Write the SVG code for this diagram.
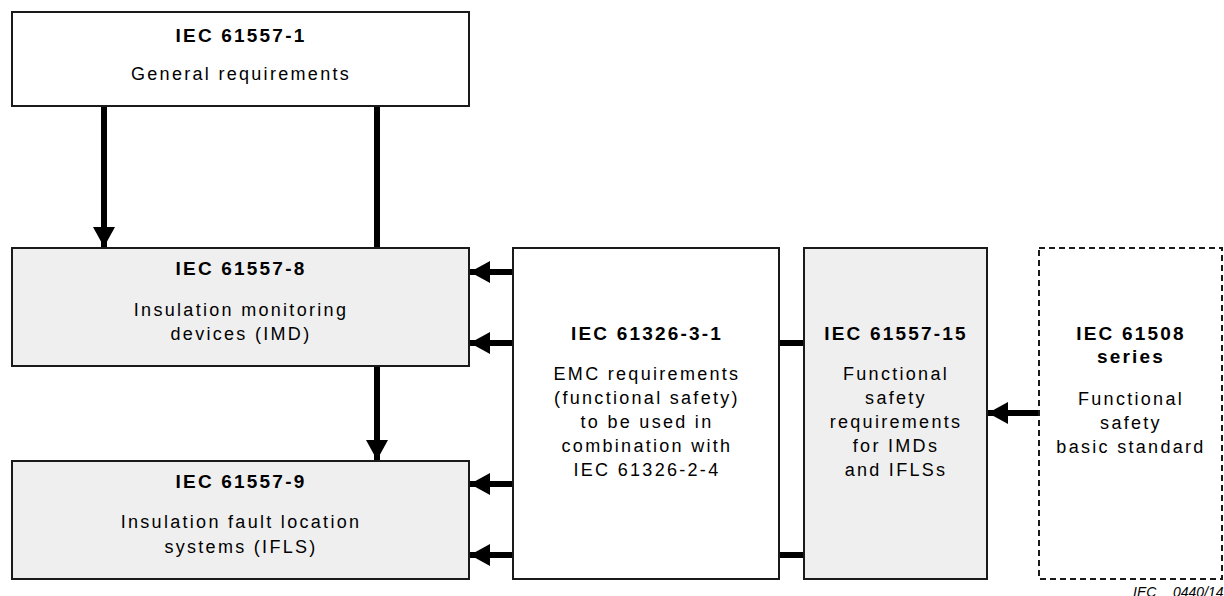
<svg xmlns="http://www.w3.org/2000/svg" width="1224" height="596" viewBox="0 0 1224 596">
<style>
.box{stroke:#1a1a1a;stroke-width:2;fill:#ffffff}
.grey{fill:#efefef}
.dash{stroke-dasharray:6 4}
.t{font-family:"Liberation Sans",Arial,sans-serif;font-size:19px;font-weight:bold;fill:#000;text-anchor:middle;letter-spacing:2.2px}
.b{font-family:"Liberation Sans",Arial,sans-serif;font-size:18px;fill:#000;text-anchor:middle;letter-spacing:2.3px}
.c{stroke:#000;stroke-width:6;fill:none}
.foot{font-family:"Liberation Sans",Arial,sans-serif;font-size:14px;font-style:italic;fill:#000}
</style>
<defs>
<marker id="ah" markerUnits="userSpaceOnUse" markerWidth="20" markerHeight="22" refX="20" refY="11" orient="auto" viewBox="0 0 20 22">
<path d="M0,0 L20,11 L0,22 z" fill="#000"/>
</marker>
</defs>
<g id="connectors">
<line class="c" x1="104" y1="107" x2="104" y2="247" marker-end="url(#ah)"/>
<line class="c" x1="377" y1="107" x2="377" y2="248"/>
<line class="c" x1="377" y1="367" x2="377" y2="460" marker-end="url(#ah)"/>
<line class="c" x1="513" y1="272" x2="470" y2="272" marker-end="url(#ah)"/>
<line class="c" x1="513" y1="343" x2="470" y2="343" marker-end="url(#ah)"/>
<line class="c" x1="513" y1="484" x2="470" y2="484" marker-end="url(#ah)"/>
<line class="c" x1="513" y1="555" x2="470" y2="555" marker-end="url(#ah)"/>
<line class="c" x1="779" y1="343" x2="804" y2="343"/>
<line class="c" x1="779" y1="555" x2="804" y2="555"/>
<line class="c" x1="1039" y1="413" x2="988" y2="413" marker-end="url(#ah)"/>
</g>
<g id="iec61557-1">
<rect class="box" x="12" y="12" width="457" height="94"/>
<text class="t" x="241" y="42">IEC 61557-1</text>
<text class="b" x="241" y="80">General requirements</text>
</g>
<g id="iec61557-8">
<rect class="box grey" x="12" y="248" width="457" height="118"/>
<text class="t" x="241" y="275">IEC 61557-8</text>
<text class="b" x="241" y="316">Insulation monitoring</text>
<text class="b" x="241" y="340">devices (IMD)</text>
</g>
<g id="iec61557-9">
<rect class="box grey" x="12" y="461" width="457" height="118"/>
<text class="t" x="241" y="488">IEC 61557-9</text>
<text class="b" x="241" y="528">Insulation fault location</text>
<text class="b" x="241" y="553">systems (IFLS)</text>
</g>
<g id="iec61326-3-1">
<rect class="box" x="513" y="248" width="266" height="331"/>
<text class="t" x="647" y="340">IEC 61326-3-1</text>
<text class="b" x="647" y="380">EMC requirements</text>
<text class="b" x="647" y="404">(functional safety)</text>
<text class="b" x="647" y="428">to be used in</text>
<text class="b" x="647" y="452">combination with</text>
<text class="b" x="647" y="476">IEC 61326-2-4</text>
</g>
<g id="iec61557-15">
<rect class="box grey" x="804" y="248" width="183" height="331"/>
<text class="t" x="896" y="340">IEC 61557-15</text>
<text class="b" x="896" y="380">Functional</text>
<text class="b" x="896" y="404">safety</text>
<text class="b" x="896" y="428">requirements</text>
<text class="b" x="896" y="452">for IMDs</text>
<text class="b" x="896" y="476">and IFLSs</text>
</g>
<g id="iec61508">
<rect class="box dash" x="1039" y="248" width="183" height="331"/>
<text class="t" x="1131" y="340">IEC 61508</text>
<text class="t" x="1131" y="363">series</text>
<text class="b" x="1131" y="405">Functional</text>
<text class="b" x="1131" y="429">safety</text>
<text class="b" x="1131" y="453">basic standard</text>
</g>
<text class="foot" x="1133" y="597">IEC<tspan x="1173">0440/14</tspan></text>
</svg>
